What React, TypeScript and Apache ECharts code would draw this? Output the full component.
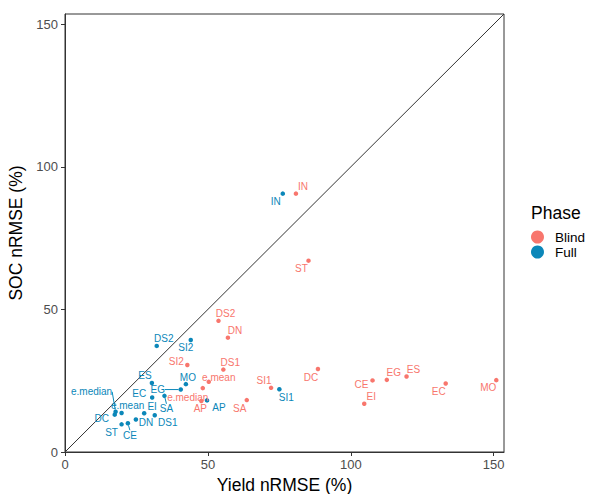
import React, { useEffect, useRef } from "react";
import * as echarts from "echarts";

// Blind phase: model labels with yield and SOC nRMSE (%)
const blindNames = ["IN", "ST", "DS2", "DN", "SI2", "DS1", "e.mean", "e.median", "AP", "SA", "SI1", "DC", "CE", "EG", "ES", "EI", "EC", "MO"];
const blindYield = [80.8, 85.2, 53.7, 57.0, 42.8, 55.4, 50.3, 48.2, 47.7, 63.6, 72.1, 88.5, 107.6, 112.6, 119.5, 104.7, 133.2, 150.9];
const blindSoc = [90.6, 67.1, 46.0, 40.1, 30.5, 28.9, 24.6, 22.4, 17.9, 18.2, 22.5, 29.1, 25.1, 25.3, 26.5, 16.9, 24.0, 25.2];

// Full phase
const fullNames = ["IN", "DS2", "SI2", "ES", "MO", "EG", "EC", "SA", "AP", "EI", "DS1", "DN", "e.mean", "e.median", "DC", "ST", "CE", "SI1"];
const fullYield = [76.2, 32.1, 44.0, 30.4, 42.3, 40.5, 30.5, 34.8, 49.7, 27.7, 31.4, 24.8, 19.8, 17.7, 17.4, 19.8, 22.0, 75.0];
const fullSoc = [90.6, 37.2, 39.3, 24.2, 23.8, 21.9, 19.1, 19.7, 18.1, 13.6, 12.9, 11.4, 13.7, 14.1, 13.1, 9.7, 10.1, 22.0];

const phases = ["Blind", "Full"];
const xTicks = [0, 50, 100, 150];
const yTicks = [0, 50, 100, 150];
const AXIS_MAX = 153.6;

// Repelled label offsets (px) from each point, and which ones get a leader segment
const blindOffsets: [number, number][] = [
  [7, -7], [-7, 8], [7, -7], [7, -7], [-11, -4], [7, -7], [10, -4], [-15, 9], [-1, 8],
  [-7, 8], [-7, -7], [-7, 8], [-11, 4], [7, -7], [7, -7], [7, -7], [-7, 8], [-8, 7],
];
const fullOffsets: [number, number][] = [
  [-7, 8], [7, -7], [-5, 8], [-7, -7], [2, -7], [-23, 0], [-13, -4], [2, 13], [12, 7],
  [8, -7], [13, 7], [10, 3], [6, -7], [-24, -20], [-13, 4], [-10, 8], [2, 12], [7, 8],
];
const fullLeaders = ["EG", "SA", "e.median", "CE"];

const RED = "#F8766D";
const BLUE = "#0B87B9";
const FONT = "Liberation Sans";

function buildData(names: string[], xs: number[], ys: number[], leaders: string[]) {
  return names.map((n, i) => ({
    name: n,
    value: [xs[i], ys[i]],
    labelLine: { show: leaders.includes(n) },
  }));
}

export default function App() {
  const ref = useRef<HTMLDivElement>(null);

  useEffect(() => {
    if (!ref.current) return;
    const chart = echarts.init(ref.current, null, { renderer: "svg" });

    const makeSeries = (
      name: string,
      color: string,
      data: any[],
      offsets: [number, number][]
    ) => ({
      name,
      type: "scatter",
      symbol: "circle",
      symbolSize: 4.5,
      itemStyle: { color, opacity: 1 },
      data,
      z: 3,
      label: {
        show: true,
        position: "inside",
        formatter: "{b}",
        color,
        fontFamily: FONT,
        fontSize: 10,
        align: "center",
        verticalAlign: "middle",
      },
      labelLine: {
        show: false,
        lineStyle: { color, width: 1 },
      },
      labelLayout: (p: any) => ({
        dx: offsets[p.dataIndex][0],
        dy: offsets[p.dataIndex][1],
        hideOverlap: false,
      }),
      emphasis: { disabled: true },
    });

    chart.setOption({
      animation: false,
      textStyle: { fontFamily: FONT },
      grid: {
        left: 65,
        top: 14,
        right: 85,
        bottom: 42,
        outerBoundsMode: "none",
        containLabel: false,
        show: true,
        borderColor: "#333333",
        borderWidth: 1,
        backgroundColor: "#ffffff",
      },
      legend: {
        orient: "vertical",
        left: 531,
        top: 230,
        width: 58,
        data: phases,
        icon: "circle",
        itemWidth: 13,
        itemHeight: 13,
        itemGap: 1,
        padding: 0,
        formatter: "{t|{name}}",
        textStyle: {
          fontFamily: FONT,
          fontSize: 13.5,
          color: "#000",
          overflow: "none",
          rich: { t: { fontFamily: FONT, fontSize: 13.5, color: "#000", padding: [0, 0, 0, 6] } },
        },
        selectedMode: false,
      },
      graphic: [
        {
          type: "text",
          left: 531,
          top: 204,
          style: { text: "Phase", fontFamily: FONT, fontSize: 17.5, fill: "#000" },
        },
      ],
      xAxis: {
        type: "value",
        min: 0,
        max: AXIS_MAX,
        name: "Yield nRMSE (%)",
        nameLocation: "middle",
        nameGap: 21,
        nameTextStyle: { fontFamily: FONT, fontSize: 17.5, color: "#000" },
        splitLine: { show: false },
        axisLine: { show: true, onZero: false, lineStyle: { color: "#333333" } },
        axisTick: { show: true, length: 4, customValues: xTicks, lineStyle: { color: "#333333" } },
        axisLabel: { customValues: xTicks, fontSize: 13, color: "#4D4D4D", margin: 6, fontFamily: FONT },
      },
      yAxis: {
        type: "value",
        min: 0,
        max: AXIS_MAX,
        name: "SOC nRMSE (%)",
        nameLocation: "middle",
        nameGap: 34,
        nameTextStyle: { fontFamily: FONT, fontSize: 17.5, color: "#000" },
        splitLine: { show: false },
        axisLine: { show: true, onZero: false, lineStyle: { color: "#333333" } },
        axisTick: { show: true, length: 4, customValues: yTicks, lineStyle: { color: "#333333" } },
        axisLabel: { customValues: yTicks, fontSize: 13, color: "#4D4D4D", margin: 7, fontFamily: FONT },
      },
      series: [
        {
          type: "line",
          data: [
            [0, 0],
            [AXIS_MAX, AXIS_MAX],
          ],
          symbol: "none",
          lineStyle: { color: "#333333", width: 1 },
          z: 1,
          silent: true,
          emphasis: { disabled: true },
        },
        makeSeries("Blind", RED, buildData(blindNames, blindYield, blindSoc, []), blindOffsets),
        makeSeries("Full", BLUE, buildData(fullNames, fullYield, fullSoc, fullLeaders), fullOffsets),
      ],
    });

    return () => chart.dispose();
  }, []);

  return (
    <div
      ref={ref}
      style={{ position: "fixed", left: 0, top: 0, width: 589, height: 494, background: "#fff" }}
    />
  );
}
